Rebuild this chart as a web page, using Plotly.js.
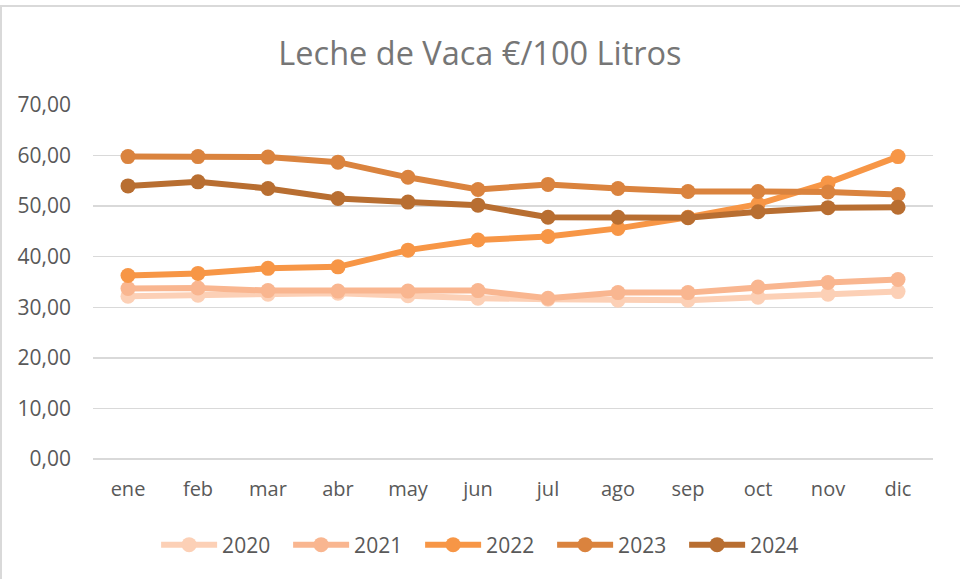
<!DOCTYPE html>
<html>
<head>
<meta charset="utf-8">
<script src="https://cdn.plot.ly/plotly-3.0.1.min.js"></script>
<style>
  html, body { margin: 0; padding: 0; background: #fff; }
  #frame { position: absolute; left: 0; top: 5px; width: 990px; height: 600px; border-left: 2px solid #d9d9d9; border-top: 2px solid #d9d9d9; box-sizing: border-box; pointer-events: none; }
  #chart { position: absolute; left: 0; top: 0; width: 960px; height: 579px; }
</style>
</head>
<body>
<div id="chart"></div>
<div id="frame"></div>
<script>
const months = ["ene","feb","mar","abr","may","jun","jul","ago","sep","oct","nov","dic"];
const years = ["2020","2021","2022","2023","2024"];
const v2020 = [32.2, 32.4, 32.6, 32.8, 32.3, 31.8, 31.6, 31.4, 31.4, 32.0, 32.6, 33.1];
const v2021 = [33.7, 33.8, 33.3, 33.2, 33.2, 33.3, 31.8, 32.9, 32.9, 34.0, 34.9, 35.5];
const v2022 = [36.3, 36.7, 37.7, 38.0, 41.3, 43.3, 44.0, 45.6, 47.8, 50.4, 54.6, 59.8];
const v2023 = [59.8, 59.8, 59.7, 58.7, 55.7, 53.3, 54.3, 53.5, 52.9, 52.9, 52.8, 52.3];
const v2024 = [54.0, 54.8, 53.5, 51.5, 50.8, 50.2, 47.8, 47.8, 47.7, 48.9, 49.7, 49.8];
const seriesValues = [v2020, v2021, v2022, v2023, v2024];
const colors = ["#fcd0b6", "#f9b690", "#f79646", "#da833e", "#b86e31"];

const traces = years.map((y, i) => ({
  type: "scatter",
  mode: "lines+markers",
  name: y,
  x: months,
  y: seriesValues[i],
  line: { color: colors[i], width: 6 },
  marker: { color: colors[i], size: 15 }
}));

const font = "'Open Sans', sans-serif";
const layout = {
  width: 960, height: 579,
  margin: { l: 93, r: 27, t: 105, b: 120 },
  paper_bgcolor: "#fff", plot_bgcolor: "#fff",
  separators: ",.",
  title: { text: "Leche de Vaca €/100 Litros", font: { family: font, size: 32.5, color: "#767676" }, x: 0.5, xanchor: "center", y: 0.908, yanchor: "middle" },
  xaxis: {
    type: "category", range: [-0.5, 11.5], showgrid: false, zeroline: false,
    showline: false, ticks: "",
    tickfont: { family: font, size: 20, color: "#595959" },
    ticklabelstandoff: 16
  },
  yaxis: {
    range: [0, 70], dtick: 10, tickformat: ".2f",
    showgrid: true, gridcolor: "#d9d9d9", gridwidth: 1.5,
    zeroline: true, zerolinecolor: "#d9d9d9", zerolinewidth: 1.5,
    showline: false, ticks: "",
    tickfont: { family: font, size: 21, color: "#595959" },
    ticklabelstandoff: 21
  },
  showlegend: true,
  legend: {
    orientation: "h", x: 0.468, xanchor: "center", y: -0.243, yanchor: "middle",
    font: { family: font, size: 21, color: "#595959" },
    itemwidth: 56, entrywidth: 61, entrywidthmode: "pixels",
    traceorder: "normal"
  }
};

Plotly.newPlot("chart", traces, layout, { displayModeBar: false, staticPlot: true });
</script>
</body>
</html>
